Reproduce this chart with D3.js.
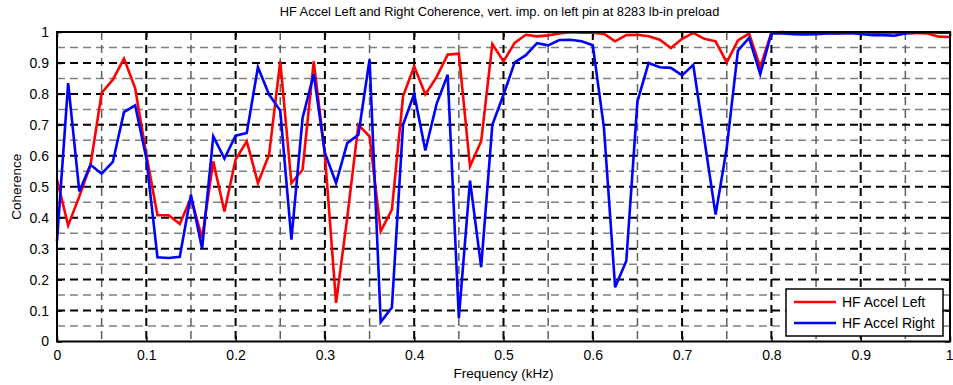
<!DOCTYPE html>
<html>
<head>
<meta charset="utf-8">
<script src="https://cdn.jsdelivr.net/npm/d3@7"></script>
<style>
    body { margin: 0; background: #fff; }
    svg { display: block; font-family: "Liberation Sans", Arial, sans-serif; }
</style>
</head>
<body>
<div id="chart"></div>
<script>
// Coherence between left/right HF accelerometers

const freqKHz = [
    0, 0.0125, 0.025, 0.0375, 0.05, 0.0625, 0.075, 0.0875, 0.1, 0.1125,
    0.125, 0.1375, 0.15, 0.1625, 0.175, 0.1875, 0.2, 0.2125, 0.225, 0.2375,
    0.25, 0.2625, 0.275, 0.2875, 0.3, 0.3125, 0.325, 0.3375, 0.35, 0.3625,
    0.375, 0.3875, 0.4, 0.4125, 0.425, 0.4375, 0.45, 0.4625, 0.475, 0.4875,
    0.5, 0.5125, 0.525, 0.5375, 0.55, 0.5625, 0.575, 0.5875, 0.6, 0.6125,
    0.625, 0.6375, 0.65, 0.6625, 0.675, 0.6875, 0.7, 0.7125, 0.725, 0.7375,
    0.75, 0.7625, 0.775, 0.7875, 0.8, 0.8125, 0.825, 0.8375, 0.85, 0.8625,
    0.875, 0.8875, 0.9, 0.9125, 0.925, 0.9375, 0.95, 0.9625, 0.975, 0.9875,
    1.0
];

const cohLeft = [
    0.523, 0.375, 0.469, 0.570, 0.803, 0.846, 0.914, 0.819, 0.604, 0.408,
    0.408, 0.380, 0.464, 0.334, 0.582, 0.420, 0.588, 0.647, 0.512, 0.604,
    0.905, 0.512, 0.555, 0.905, 0.604, 0.125, 0.400, 0.700, 0.663, 0.356,
    0.426, 0.792, 0.889, 0.798, 0.854, 0.927, 0.930, 0.566, 0.647, 0.961,
    0.905, 0.965, 0.991, 0.986, 0.989, 0.995, 0.999, 0.998, 0.998, 0.994,
    0.970, 0.990, 0.991, 0.986, 0.975, 0.948, 0.978, 0.997, 0.978, 0.970,
    0.902, 0.973, 0.995, 0.886, 0.998, 1.000, 0.997, 0.995, 0.996, 0.998,
    0.995, 0.996, 0.998, 0.996, 0.995, 0.997, 0.998, 0.997, 0.995, 0.985,
    0.984
];

const cohRight = [
    0.324, 0.835, 0.485, 0.571, 0.542, 0.580, 0.741, 0.763, 0.593, 0.272,
    0.270, 0.274, 0.474, 0.300, 0.663, 0.591, 0.665, 0.674, 0.886, 0.798,
    0.746, 0.329, 0.722, 0.864, 0.609, 0.512, 0.641, 0.668, 0.911, 0.063,
    0.110, 0.700, 0.800, 0.617, 0.767, 0.862, 0.076, 0.520, 0.240, 0.700,
    0.797, 0.902, 0.925, 0.964, 0.957, 0.974, 0.975, 0.970, 0.957, 0.690,
    0.175, 0.260, 0.776, 0.900, 0.886, 0.884, 0.860, 0.894, 0.652, 0.410,
    0.625, 0.940, 0.981, 0.864, 0.996, 0.995, 0.993, 0.992, 0.993, 0.995,
    0.995, 0.997, 0.994, 0.990, 0.990, 0.988, 0.995, 0.998, 0.999, 0.998,
    0.998
];

const seriesNames = ["HF Accel Left", "HF Accel Right"];
const seriesColors = ["#ff0000", "#0000ff"];

const xTickValues = [0, 0.1, 0.2, 0.3, 0.4, 0.5, 0.6, 0.7, 0.8, 0.9, 1];
const xTickLabels = ["0", "0.1", "0.2", "0.3", "0.4", "0.5", "0.6", "0.7", "0.8", "0.9", "1"];
const yTickValues = [0, 0.1, 0.2, 0.3, 0.4, 0.5, 0.6, 0.7, 0.8, 0.9, 1];
const yTickLabels = ["0", "0.1", "0.2", "0.3", "0.4", "0.5", "0.6", "0.7", "0.8", "0.9", "1"];
const minorGridValues = [0.05, 0.15, 0.25, 0.35, 0.45, 0.55, 0.65, 0.75, 0.85, 0.95];

const titleText = "HF Accel Left and Right Coherence, vert. imp. on left pin at 8283 lb-in preload";
const xLabelText = "Frequency (kHz)";
const yLabelText = "Coherence";

const width = 953;
const height = 385;
const margin = { top: 32, right: 3, bottom: 43.5, left: 57 };
const innerWidth = width - margin.left - margin.right;
const innerHeight = height - margin.top - margin.bottom;

const svg = d3.select("#chart").append("svg")
    .attr("width", width)
    .attr("height", height);

const root = svg.append("g")
    .attr("transform", `translate(${margin.left},${margin.top})`);

const x = d3.scaleLinear().domain([0, 1]).range([0, innerWidth]);
const y = d3.scaleLinear().domain([0, 1]).range([innerHeight, 0]);

// grid: minor (grey) first, then major (black)
const gridGroup = root.append("g").attr("class", "grid");

gridGroup.selectAll("line.minor-h")
    .data(minorGridValues)
    .join("line")
    .attr("class", "minor-h")
    .attr("x1", 0).attr("x2", innerWidth)
    .attr("y1", d => y(d)).attr("y2", d => y(d))
    .attr("stroke", "#808080")
    .attr("stroke-width", 1.5)
    .attr("stroke-dasharray", "8,5");

gridGroup.selectAll("line.minor-v")
    .data(minorGridValues)
    .join("line")
    .attr("class", "minor-v")
    .attr("y1", 0).attr("y2", innerHeight)
    .attr("x1", d => x(d)).attr("x2", d => x(d))
    .attr("stroke", "#606060")
    .attr("stroke-width", 1.5)
    .attr("stroke-dasharray", "8,5");

gridGroup.selectAll("line.major-h")
    .data(yTickValues.filter(d => d > 0 && d < 1))
    .join("line")
    .attr("class", "major-h")
    .attr("x1", 0).attr("x2", innerWidth)
    .attr("y1", d => y(d)).attr("y2", d => y(d))
    .attr("stroke", "#000")
    .attr("stroke-width", 2)
    .attr("stroke-dasharray", "8,5");

gridGroup.selectAll("line.major-v")
    .data(xTickValues.filter(d => d > 0 && d < 1))
    .join("line")
    .attr("class", "major-v")
    .attr("y1", 0).attr("y2", innerHeight)
    .attr("x1", d => x(d)).attr("x2", d => x(d))
    .attr("stroke", "#000")
    .attr("stroke-width", 2)
    .attr("stroke-dasharray", "8,5");

// axes with inward ticks
root.append("g")
    .attr("class", "x-axis")
    .attr("transform", `translate(0,${innerHeight})`)
    .call(d3.axisBottom(x)
        .tickValues(xTickValues)
        .tickFormat((d, i) => xTickLabels[i])
        .tickSize(-5)
        .tickPadding(9)
        .tickSizeOuter(0));

root.append("g")
    .attr("class", "y-axis")
    .call(d3.axisLeft(y)
        .tickValues(yTickValues)
        .tickFormat((d, i) => yTickLabels[i])
        .tickSize(-5)
        .tickPadding(8)
        .tickSizeOuter(0));

const topAxis = root.append("g")
    .call(d3.axisTop(x).tickValues(xTickValues).tickSize(-5).tickSizeOuter(0));
const rightAxis = root.append("g")
    .attr("transform", `translate(${innerWidth},0)`)
    .call(d3.axisRight(y).tickValues(yTickValues).tickSize(-5).tickSizeOuter(0));
topAxis.selectAll("text").remove();
rightAxis.selectAll("text").remove();

root.selectAll(".domain").remove();
root.selectAll(".tick line").attr("stroke", "#000").attr("stroke-width", 1.5);
root.selectAll(".tick text")
    .attr("fill", "#000")
    .style("font-size", "14px")
    .style("font-family", "\"Liberation Sans\", Arial, sans-serif");

// the last x label sits on the figure edge; keep it inside
root.select(".x-axis").selectAll(".tick text")
    .filter(d => d === 1)
    .attr("text-anchor", "end")
    .attr("dx", 3);

// data lines
const line = d3.line()
    .x((d, i) => x(freqKHz[i]))
    .y(d => y(d));

[cohLeft, cohRight].forEach((values, k) => {
    root.append("path")
        .datum(values)
        .attr("fill", "none")
        .attr("stroke", seriesColors[k])
        .attr("stroke-width", 2.6)
        .attr("stroke-linejoin", "miter")
        .attr("d", line);
});

// axes box
root.append("rect")
    .attr("x", 0).attr("y", 0)
    .attr("width", innerWidth).attr("height", innerHeight)
    .attr("fill", "none")
    .attr("stroke", "#000")
    .attr("stroke-width", 2);

// title and labels
svg.append("text")
    .attr("x", margin.left + innerWidth / 2 - 4)
    .attr("y", 16)
    .attr("text-anchor", "middle")
    .style("font-size", "12.8px")
    .text(titleText);

svg.append("text")
    .attr("x", margin.left + innerWidth / 2)
    .attr("y", 378)
    .attr("text-anchor", "middle")
    .style("font-size", "13.5px")
    .text(xLabelText);

svg.append("text")
    .attr("transform", `translate(21, ${margin.top + innerHeight / 2}) rotate(-90)`)
    .attr("text-anchor", "middle")
    .style("font-size", "13.5px")
    .text(yLabelText);

// legend
const legend = svg.append("g").attr("transform", "translate(786,289)");
legend.append("rect")
    .attr("width", 157).attr("height", 47)
    .attr("fill", "#fff")
    .attr("stroke", "#000")
    .attr("stroke-width", 1.5);

seriesNames.forEach((name, k) => {
    const ly = 13 + k * 21;
    legend.append("line")
        .attr("x1", 8).attr("x2", 50)
        .attr("y1", ly).attr("y2", ly)
        .attr("stroke", seriesColors[k])
        .attr("stroke-width", 2.6);
    legend.append("text")
        .attr("x", 56)
        .attr("y", ly + 5)
        .style("font-size", "14px")
        .text(name);
});
</script>
</body>
</html>
